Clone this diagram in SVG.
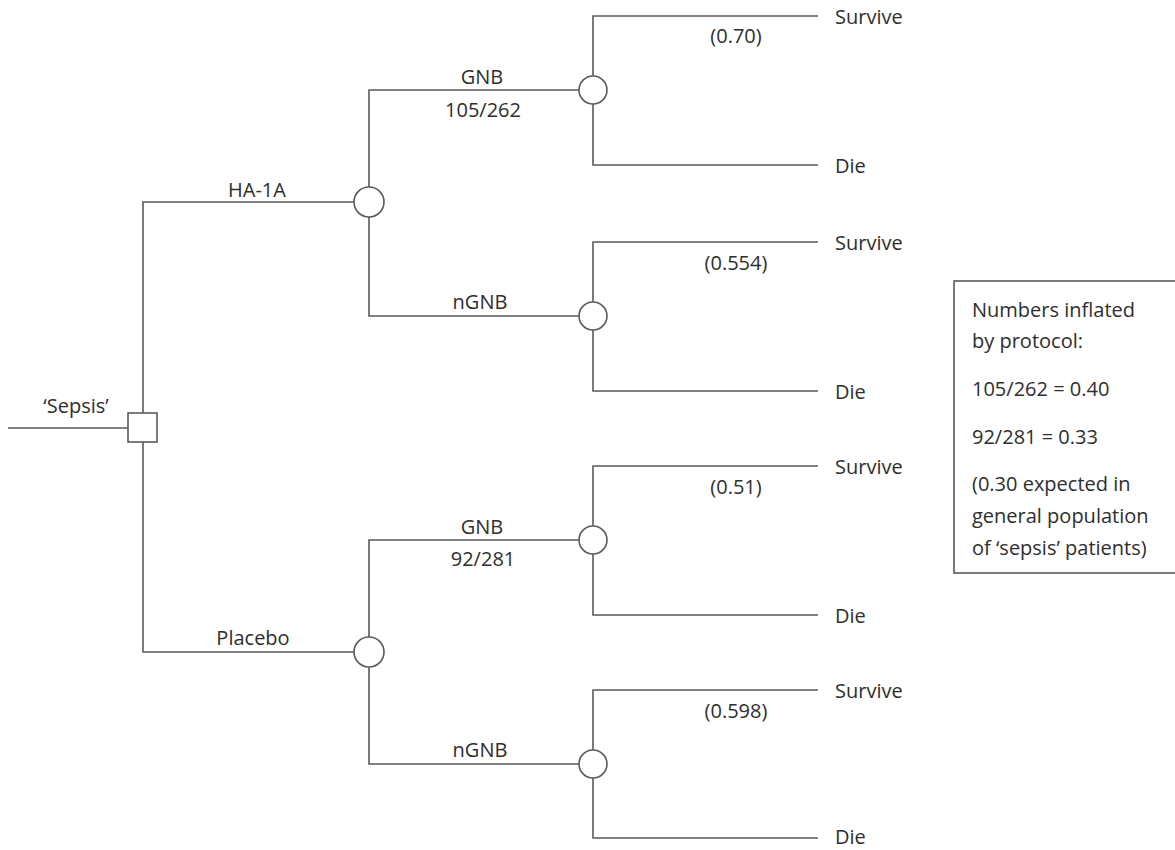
<svg xmlns="http://www.w3.org/2000/svg" width="1175" height="850" viewBox="0 0 1175 850">
<style>
  .ln { stroke: #5a5a5a; stroke-width: 1.6; fill: none; }
  .nd { stroke: #5a5a5a; stroke-width: 1.6; fill: #ffffff; }
  text { font-family: "Open Sans", "Liberation Sans", sans-serif; font-size: 20px; fill: #2e2e2e; }
  .c { text-anchor: middle; }
</style>
<rect width="1175" height="850" fill="#ffffff"/>

<g id="connectors">
  <path class="ln" d="M8,428 H128"/>
  <path class="ln" d="M143,413 V202 H354"/>
  <path class="ln" d="M143,442 V652 H354"/>
  <path class="ln" d="M369,187 V90 H579"/>
  <path class="ln" d="M369,217 V316 H579"/>
  <path class="ln" d="M369,637 V540 H579"/>
  <path class="ln" d="M369,667 V764 H579"/>
  <path class="ln" d="M593,76 V16 H818"/>
  <path class="ln" d="M593,104 V165 H818"/>
  <path class="ln" d="M593,302 V242 H818"/>
  <path class="ln" d="M593,330 V391 H818"/>
  <path class="ln" d="M593,526 V466 H818"/>
  <path class="ln" d="M593,554 V615 H818"/>
  <path class="ln" d="M593,750 V690 H818"/>
  <path class="ln" d="M593,778 V838 H818"/>
</g>

<g id="decision-sepsis">
  <rect class="nd" x="128" y="413" width="29" height="29"/>
  <text class="c" x="76" y="413">‘Sepsis’</text>
</g>

<g id="chance-ha1a">
  <circle class="nd" cx="369" cy="202" r="15"/>
  <text class="c" x="257" y="197">HA-1A</text>
</g>
<g id="chance-placebo">
  <circle class="nd" cx="369" cy="652" r="15"/>
  <text class="c" x="253" y="645">Placebo</text>
</g>

<g id="chance-ha1a-gnb">
  <circle class="nd" cx="593" cy="90" r="14"/>
  <text class="c" x="482" y="84">GNB</text>
  <text class="c" x="483" y="117">105/262</text>
  <text class="c" x="736" y="43">(0.70)</text>
</g>
<g id="chance-ha1a-ngnb">
  <circle class="nd" cx="593" cy="316" r="14"/>
  <text class="c" x="480" y="309">nGNB</text>
  <text class="c" x="736" y="270">(0.554)</text>
</g>
<g id="chance-placebo-gnb">
  <circle class="nd" cx="593" cy="540" r="14"/>
  <text class="c" x="482" y="534">GNB</text>
  <text class="c" x="483" y="566">92/281</text>
  <text class="c" x="736" y="494">(0.51)</text>
</g>
<g id="chance-placebo-ngnb">
  <circle class="nd" cx="593" cy="764" r="14"/>
  <text class="c" x="480" y="757">nGNB</text>
  <text class="c" x="736" y="718">(0.598)</text>
</g>

<g id="outcomes">
  <text x="835" y="24">Survive</text>
  <text x="835" y="173">Die</text>
  <text x="835" y="250">Survive</text>
  <text x="835" y="399">Die</text>
  <text x="835" y="474">Survive</text>
  <text x="835" y="623">Die</text>
  <text x="835" y="698">Survive</text>
  <text x="835" y="844">Die</text>
</g>

<g id="note">
  <rect x="954" y="281" width="240" height="292" fill="#ffffff" stroke="#5a5a5a" stroke-width="1.6"/>
  <text x="972" y="317">Numbers inflated</text>
  <text x="972" y="348">by protocol:</text>
  <text x="972" y="396">105/262 = 0.40</text>
  <text x="972" y="444">92/281 = 0.33</text>
  <text x="972" y="491">(0.30 expected in</text>
  <text x="972" y="523">general population</text>
  <text x="972" y="555">of ‘sepsis’ patients)</text>
</g>
</svg>
